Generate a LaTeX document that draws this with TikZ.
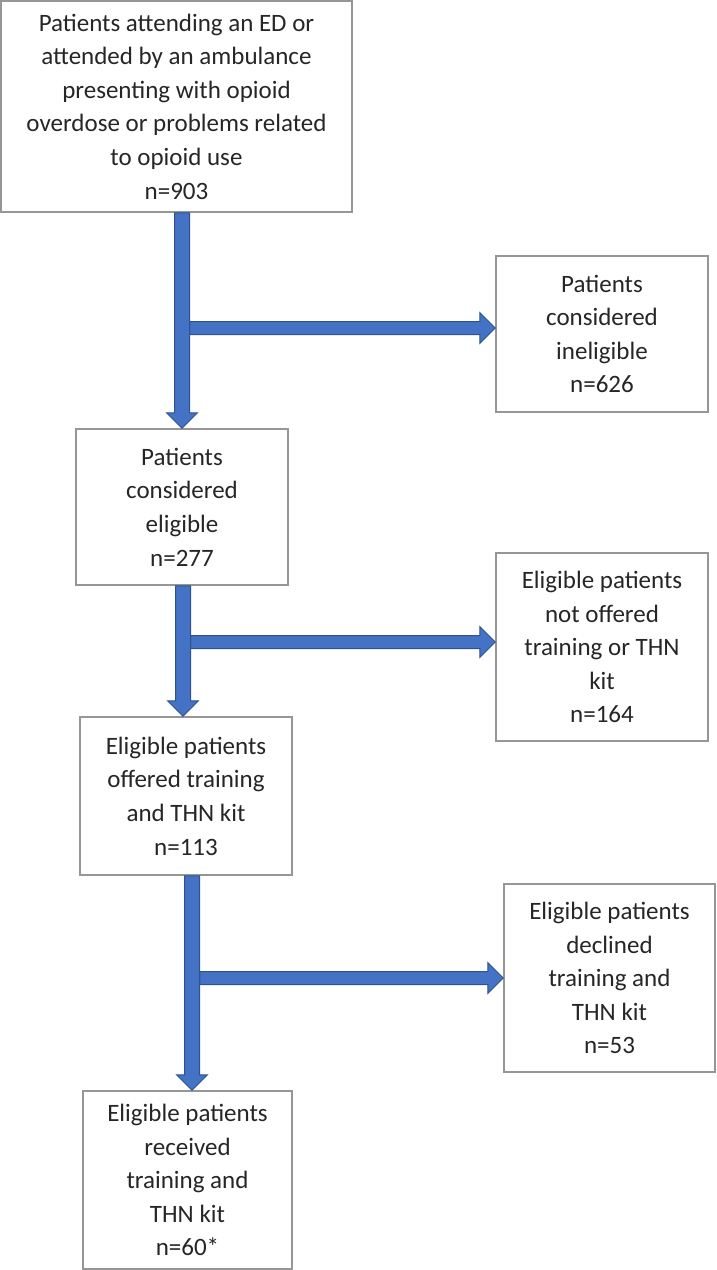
\documentclass[tikz,border=0pt]{standalone}
\usepackage{fontspec}
\setmainfont{Carlito}
\usetikzlibrary{calc, math}
\definecolor{flowblue}{RGB}{68,114,196}
\definecolor{flowedge}{RGB}{47,82,143}
\definecolor{boxgray}{RGB}{150,150,150}

\tikzset{
  box/.style={draw=boxgray, line width=1.5pt, fill=white, align=center, inner sep=0pt,
    text=black!85, font=\fontsize{25}{33.6}\selectfont},
  flow/.style={fill=flowblue, draw=flowedge, line width=1pt, line join=miter}
}

% block arrows: shaft half width \sw, head half width \hw, head length \hl
\newcommand{\vflow}[2]{%
  \filldraw[flow] ($(#1)+(-\sw,0)$) -- ($(#2)+(-\sw,-\hl)$) -- ($(#2)+(-\hw,-\hl)$) -- (#2)
    -- ($(#2)+(\hw,-\hl)$) -- ($(#2)+(\sw,-\hl)$) -- ($(#1)+(\sw,0)$) -- cycle;}
\newcommand{\hflow}[2]{%
  \filldraw[flow] ($(#1)+(0,-\st)$) -- ($(#2)+(-\hl,-\st)$) -- ($(#2)+(-\hl,-\hw)$) -- (#2)
    -- ($(#2)+(-\hl,\hw)$) -- ($(#2)+(-\hl,\st)$) -- ($(#1)+(0,\st)$) -- cycle;}

\begin{document}
\begin{tikzpicture}[x=1pt, y=-1pt]
\tikzmath{
\sw=7.5;
\st=6.5;
\hw=15.5;
\hl=15.5;
}
\useasboundingbox (0,0) rectangle (716,1270);

% main column
\node[box, minimum width=351, minimum height=211] (total) at (176.5,106.5)
  {Patients attending an ED or\\attended by an ambulance\\presenting with opioid\\overdose or problems related\\to opioid use\\n=903};
\node[box, minimum width=212, minimum height=156] (elig) at (182,507)
  {Patients\\considered\\eligible\\n=277};
\node[box, minimum width=212, minimum height=158] (offered) at (186,796)
  {Eligible patients\\offered training\\and THN kit\\n=113};
\node[box, minimum width=209, minimum height=178] (received) at (187.5,1180)
  {Eligible patients\\received\\training and\\THN kit\\n=60*};

% exclusions
\node[box, minimum width=212, minimum height=156] (inelig) at (602,334)
  {Patients\\considered\\ineligible\\n=626};
\node[box, minimum width=212, minimum height=188] (notoff) at (602,647)
  {Eligible patients\\not offered\\training or THN\\kit\\n=164};
\node[box, minimum width=211, minimum height=188] (declined) at (609.5,978)
  {Eligible patients\\declined\\training and\\THN kit\\n=53};

\coordinate (x1) at (182,0);
\coordinate (x2) at (183,0);
\coordinate (x3) at (192,0);
\coordinate (h1) at (189.5,328);
\coordinate (h2) at (190.5,642);
\coordinate (h3) at (199.5,978);

\coordinate (s1) at (total.south -| x1);
\coordinate (e1) at (elig.north -| x1);
\coordinate (s2) at (elig.south -| x2);
\coordinate (e2) at (offered.north -| x2);
\coordinate (s3) at (offered.south -| x3);
\coordinate (e3) at (received.north -| x3);
\coordinate (t1) at (inelig.west |- h1);
\coordinate (t2) at (notoff.west |- h2);
\coordinate (t3) at (declined.west |- h3);

\hflow{h1}{t1}
\hflow{h2}{t2}
\hflow{h3}{t3}
\vflow{s1}{e1}
\vflow{s2}{e2}
\vflow{s3}{e3}
\end{tikzpicture}
\end{document}
